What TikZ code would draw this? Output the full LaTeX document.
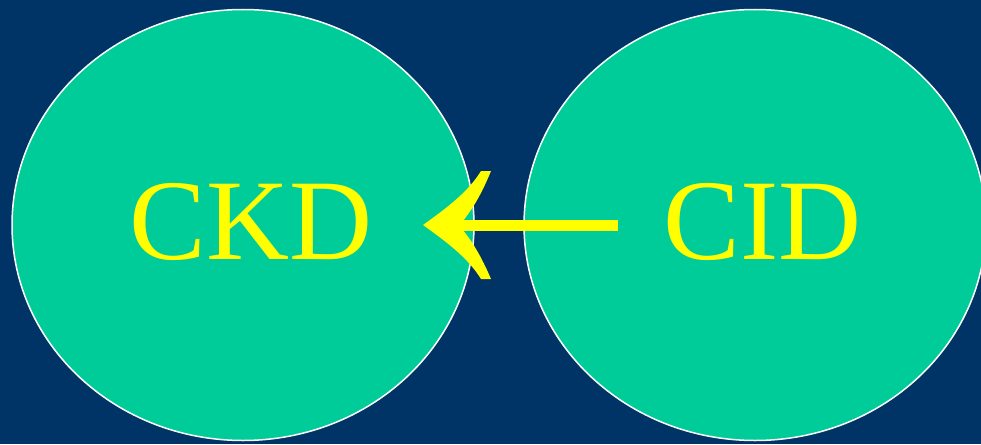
\documentclass[tikz,border=0pt]{standalone}
\usepackage{fontspec}
\setmainfont{Liberation Serif}
\usetikzlibrary{shapes.geometric}
\definecolor{bgblue}{RGB}{0,51,102}
\definecolor{circgreen}{RGB}{0,204,153}
\definecolor{txtyellow}{RGB}{255,255,0}
\tikzset{
  circ/.style={ellipse, fill=circgreen, draw=white, line width=1.5pt, minimum width=462pt, minimum height=431pt, inner sep=0pt},
  lbl/.style={text=txtyellow, inner sep=0pt, anchor=base, font=\fontsize{115}{120}\selectfont},
  shaft/.style={draw=txtyellow, line width=10.5pt},
  headfill/.style={fill=txtyellow}
}
\begin{document}
\begin{tikzpicture}[x=1pt,y=-1pt]
\fill[bgblue] (0,0) rectangle (981,444);
\useasboundingbox (0,0) rectangle (981,444);
\node[circ] (left) at (243,225) {};
\node[circ] (right) at (755,225) {};
\node[lbl] (ckd) at (251,259.5) {CKD};
\node[lbl] (cid) at (763,259.5) {CID};
\coordinate (tail) at (618,225.5);
\coordinate (tip) at (423,225);
\draw[shaft] (tail) -- (450,225.5);
\fill[headfill] (tip) .. controls (448,207) and (468,192) .. (481,171) -- (491,171)
  .. controls (482,193) and (472,211) .. (459,225.5)
  .. controls (472,240) and (482,258) .. (491,279) -- (481,279)
  .. controls (468,258) and (448,243) .. (tip) -- cycle;
\end{tikzpicture}
\end{document}
